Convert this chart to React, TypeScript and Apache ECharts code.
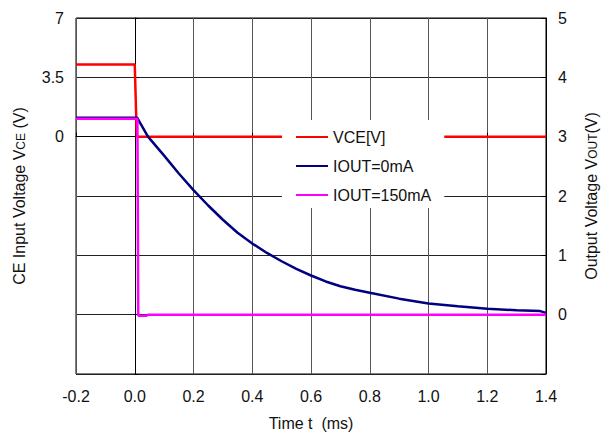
import React, { useEffect, useRef } from "react";
import * as echarts from "echarts";

// Time (ms) and values
const vceTime = [-0.2, 0.0, 0.007, 1.4];
const vceValue = [4.25, 4.25, 0, 0];

const iout0Time = [-0.2, 0.008, 0.045, 0.1, 0.15, 0.2, 0.25, 0.3, 0.35, 0.4, 0.45, 0.5, 0.55, 0.6, 0.65, 0.7, 0.75, 0.8, 0.9, 1.0, 1.1, 1.2, 1.3, 1.38, 1.4];
const iout0Value = [3.32, 3.32, 3.0, 2.68, 2.38, 2.1, 1.84, 1.6, 1.38, 1.2, 1.04, 0.9, 0.77, 0.66, 0.56, 0.48, 0.42, 0.37, 0.27, 0.19, 0.14, 0.1, 0.075, 0.06, 0.03];

const iout150Time = [-0.2, 0.009, 0.012, 0.04, 0.045, 1.4];
const iout150Value = [3.3, 3.3, -0.02, -0.02, 0, 0];

const xTicks = { min: -0.2, max: 1.4, step: 0.2 };
const leftTicks = { min: -14, max: 7, step: 3.5 };
const rightTicks = { min: -1, max: 5, step: 1 };

const seriesNames = ["VCE[V]", "IOUT=0mA", "IOUT=150mA"];
const seriesColors = ["#ff0000", "#000080", "#ff00ff"];

const pairs = (t: number[], v: number[]) => t.map((x, i) => [x, v[i]]);

const FONT = "Liberation Sans";

export default function App() {
  const ref = useRef<HTMLDivElement>(null);
  useEffect(() => {
    if (!ref.current) return;
    const chart = echarts.init(ref.current, undefined, { renderer: "svg" });
    const labelStyle = { color: "#111", fontSize: 16, fontFamily: FONT };
    const richName = {
      n: { fontSize: 16, fontFamily: FONT, color: "#111" },
      s: { fontSize: 12, fontFamily: FONT, color: "#111", verticalAlign: "bottom", padding: [4, 0, 0, 0] },
    };
    chart.setOption({
      animation: false,
      backgroundColor: "#ffffff",
      grid: {
        left: 76,
        right: 60,
        top: 18,
        bottom: 62,
        show: true,
        borderColor: "#000",
        borderWidth: 1,
        backgroundColor: "transparent",
      },
      legend: {
        left: 282,
        top: 120,
        orient: "vertical",
        backgroundColor: "#ffffff",
        padding: [9, 13, 5, 14],
        itemWidth: 32,
        itemHeight: 14,
        itemGap: 13,
        textStyle: { color: "#111", fontSize: 16, fontFamily: FONT, lineHeight: 14 },
        data: seriesNames.map((n) => ({ name: n, icon: "path://M0,6L32,6L32,8L0,8Z" })),
      },
      xAxis: {
        type: "value",
        min: xTicks.min,
        max: xTicks.max,
        interval: xTicks.step,
        name: "Time t  (ms)",
        nameLocation: "middle",
        nameGap: 41,
        nameTextStyle: labelStyle,
        axisLine: { lineStyle: { color: "#000", width: 1 } },
        axisTick: { inside: true, length: 4, lineStyle: { color: "#000" } },
        axisLabel: { ...labelStyle, margin: 14, formatter: (v: number) => v.toFixed(1) },
        splitLine: { show: true, lineStyle: { color: "#555", width: 1 } },
      },
      yAxis: [
        {
          type: "value",
          position: "left",
          min: leftTicks.min,
          max: leftTicks.max,
          interval: leftTicks.step,
          name: "{n|CE Input Voltage V}{s|CE}{n| (V)}",
          nameLocation: "middle",
          nameGap: 49,
          nameRotate: 90,
          nameTextStyle: { rich: richName },
          axisLine: { show: true, lineStyle: { color: "#000", width: 1 } },
          axisTick: { show: true, inside: true, length: 4, lineStyle: { color: "#000" } },
          axisLabel: {
            ...labelStyle,
            margin: 12,
            formatter: (v: number) => (v < 0 ? "" : String(Math.round(v * 10) / 10)),
          },
          splitLine: { show: true, lineStyle: { color: "#222", width: 1 } },
        },
        {
          type: "value",
          position: "right",
          min: rightTicks.min,
          max: rightTicks.max,
          interval: rightTicks.step,
          name: "{n|Output Voltage V}{s|OUT}{n|(V)}",
          nameLocation: "middle",
          nameGap: 37,
          nameRotate: 90,
          nameTextStyle: { rich: richName },
          axisLine: { show: true, lineStyle: { color: "#000", width: 1 } },
          axisTick: { show: true, inside: true, length: 5, lineStyle: { color: "#000" } },
          axisLabel: {
            ...labelStyle,
            margin: 12,
            formatter: (v: number) => (v < 0 ? "" : String(Math.round(v))),
          },
          splitLine: { show: false },
        },
      ],
      series: [
        {
          name: seriesNames[0],
          type: "line",
          yAxisIndex: 0,
          data: pairs(vceTime, vceValue),
          symbol: "none",
          color: seriesColors[0],
          lineStyle: { color: seriesColors[0], width: 2.5 },
          z: 2,
        },
        {
          name: seriesNames[1],
          type: "line",
          yAxisIndex: 1,
          data: pairs(iout0Time, iout0Value),
          symbol: "none",
          color: seriesColors[1],
          lineStyle: { color: seriesColors[1], width: 2.5 },
          z: 2,
        },
        {
          name: seriesNames[2],
          type: "line",
          yAxisIndex: 1,
          data: pairs(iout150Time, iout150Value),
          symbol: "none",
          color: seriesColors[2],
          lineStyle: { color: seriesColors[2], width: 2.5 },
          z: 3,
        },
      ],
    });
    return () => chart.dispose();
  }, []);
  return (
    <div
      ref={ref}
      style={{ position: "fixed", left: 0, top: 0, width: 607, height: 436, background: "#fff" }}
    />
  );
}
